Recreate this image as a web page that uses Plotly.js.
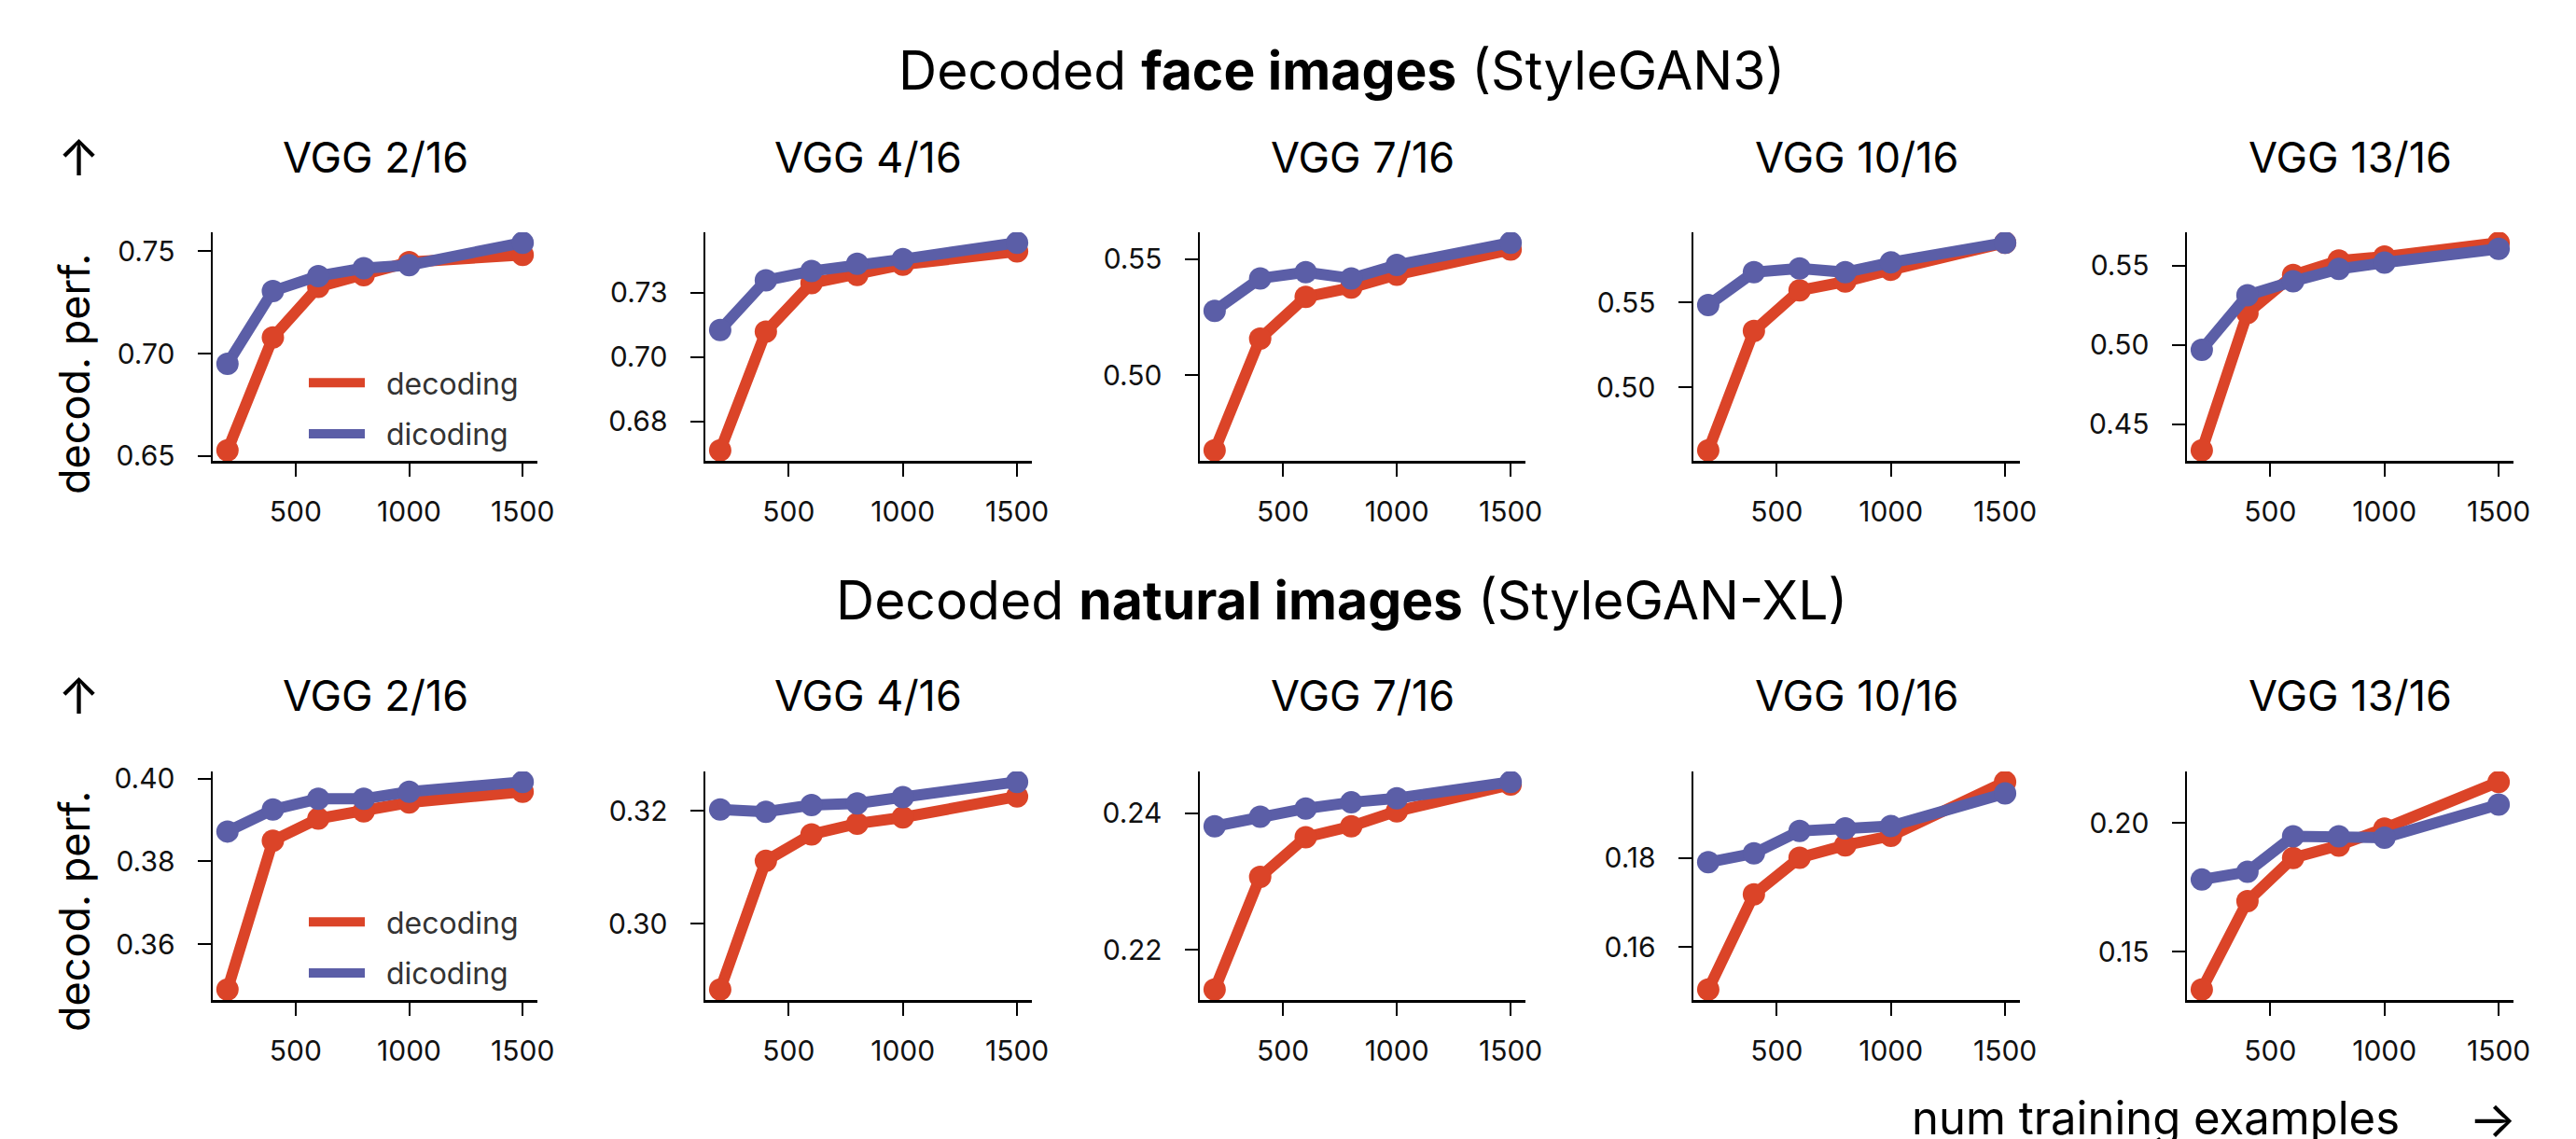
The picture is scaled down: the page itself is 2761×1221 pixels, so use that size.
<!DOCTYPE html>
<html><head><meta charset="utf-8">
<script src="https://cdn.plot.ly/plotly-3.0.1.min.js"></script>
<style>html,body{margin:0;padding:0;background:#fff;} #chart{width:2761px;height:1221px;}</style>
</head><body><div id="chart"></div>
<script>
// ---------------- DATA ----------------
const trainingSizes = [200, 400, 600, 800, 1000, 1500];
const xTickVals = [500, 1000, 1500];
const layerTitles = ['VGG 2/16', 'VGG 4/16', 'VGG 7/16', 'VGG 10/16', 'VGG 13/16'];
const rowTitles = ['Decoded <b>face images</b> (StyleGAN3)', 'Decoded <b>natural images</b> (StyleGAN-XL)'];
const seriesNames = ['decoding', 'dicoding'];
const yLabel = 'decod. perf.';
const xLabel = 'num training examples';

const faceDecoding = [
  [0.6527, 0.7079, 0.7326, 0.7383, 0.7447, 0.7482],
  [0.6638, 0.7098, 0.7286, 0.7318, 0.7358, 0.7409],
  [0.4675, 0.5157, 0.5337, 0.5377, 0.5433, 0.5541],
  [0.4630, 0.5333, 0.5571, 0.5623, 0.5692, 0.5852],
  [0.4336, 0.5202, 0.5442, 0.5533, 0.5558, 0.5646]
];
const faceDicoding = [
  [0.6950, 0.7306, 0.7379, 0.7417, 0.7432, 0.7542],
  [0.7105, 0.7297, 0.7333, 0.7361, 0.7379, 0.7443],
  [0.5277, 0.5417, 0.5444, 0.5417, 0.5475, 0.5571],
  [0.5485, 0.5678, 0.5700, 0.5678, 0.5736, 0.5852],
  [0.4971, 0.5315, 0.5403, 0.5480, 0.5520, 0.5607]
];
const naturalDecoding = [
  [0.3490, 0.3850, 0.3903, 0.3921, 0.3942, 0.3968],
  [0.2883, 0.3111, 0.3158, 0.3177, 0.3188, 0.3225],
  [0.2142, 0.2307, 0.2365, 0.2381, 0.2403, 0.2442],
  [0.1505, 0.1718, 0.1800, 0.1828, 0.1849, 0.1970],
  [0.1353, 0.1696, 0.1864, 0.1912, 0.1978, 0.2159]
];
const naturalDicoding = [
  [0.3872, 0.3925, 0.3951, 0.3951, 0.3968, 0.3992],
  [0.3202, 0.3198, 0.3210, 0.3213, 0.3224, 0.3251],
  [0.2381, 0.2395, 0.2407, 0.2416, 0.2422, 0.2446],
  [0.1790, 0.1810, 0.1860, 0.1866, 0.1871, 0.1944],
  [0.1780, 0.1810, 0.1948, 0.1948, 0.1942, 0.2071]
];

const faceTickVals = [[0.65, 0.70, 0.75], [0.675, 0.70, 0.725], [0.50, 0.55], [0.50, 0.55], [0.45, 0.50, 0.55]];
const faceTickText = [['0.65', '0.70', '0.75'], ['0.68', '0.70', '0.73'], ['0.50', '0.55'], ['0.50', '0.55'], ['0.45', '0.50', '0.55']];
const naturalTickVals = [[0.36, 0.38, 0.40], [0.30, 0.32], [0.22, 0.24], [0.16, 0.18], [0.15, 0.20]];
const naturalTickText = [['0.36', '0.38', '0.40'], ['0.30', '0.32'], ['0.22', '0.24'], ['0.16', '0.18'], ['0.15', '0.20']];

// ---------------- STYLE / LAYOUT ----------------
const W = 2761, H = 1221;
const FONT = 'Inter, "Open Sans", "DejaVu Sans", sans-serif';
const RED = '#DB4428', BLUE = '#5B5EA7';
const colPx = [[228, 576], [756, 1106], [1286, 1635], [1815, 2165], [2344, 2694]];
const rowPx = [[249, 494], [827, 1072]];
const rowTitleY = [75, 643];
const panelTitleY = [168, 745];
const yLabelY = [401, 977];
const legendTopY = [383, 961];
const px = v => v / W;
const py = v => 1 - v / H;

const rows = [
  {dec: faceDecoding, dic: faceDicoding, tv: faceTickVals, tt: faceTickText},
  {dec: naturalDecoding, dic: naturalDicoding, tv: naturalTickVals, tt: naturalTickText}
];

function padRange(arr) {
  const mn = Math.min(...arr), mx = Math.max(...arr);
  const p = (mx - mn) * 0.05;
  return [mn - p, mx + p];
}

const traces = [];
const layout = {
  width: W, height: H,
  margin: {l: 0, r: 0, t: 0, b: 0},
  paper_bgcolor: '#fff', plot_bgcolor: 'rgba(0,0,0,0)',
  font: {family: FONT, color: '#000'},
  showlegend: true,
  annotations: []
};

const xRange = padRange(trainingSizes);

rows.forEach((row, r) => {
  for (let c = 0; c < 5; c++) {
    const k = r * 5 + c + 1;
    const xa = k === 1 ? 'x' : 'x' + k;
    const ya = k === 1 ? 'y' : 'y' + k;
    const series = [row.dec[c], row.dic[c]];
    series.forEach((vals, s) => {
      traces.push({
        x: trainingSizes, y: vals, xaxis: xa, yaxis: ya,
        type: 'scatter', mode: 'lines+markers',
        line: {color: s === 0 ? RED : BLUE, width: 12},
        marker: {color: s === 0 ? RED : BLUE, size: 24},
        name: seriesNames[s], showlegend: false, hoverinfo: 'skip'
      });
    });
    const axCommon = {
      showline: true, linecolor: '#000', linewidth: 2.5,
      ticks: 'outside', ticklen: 14, tickwidth: 2, tickcolor: '#000',
      showgrid: false, zeroline: false, fixedrange: true,
      tickfont: {size: 30, family: FONT, color: '#111'}
    };
    layout['xaxis' + (k === 1 ? '' : k)] = Object.assign({}, axCommon, {
      domain: [px(colPx[c][0]), px(colPx[c][1])],
      anchor: ya, range: xRange,
      tickmode: 'array', tickvals: xTickVals, ticktext: xTickVals.map(String),
      ticklabelstandoff: 12
    });
    layout['yaxis' + (k === 1 ? '' : k)] = Object.assign({}, axCommon, {
      domain: [py(rowPx[r][1]), py(rowPx[r][0])],
      anchor: xa, range: padRange(series[0].concat(series[1])),
      tickmode: 'array', tickvals: row.tv[c], ticktext: row.tt[c],
      ticklabelstandoff: 18
    });
    layout.annotations.push({
      text: layerTitles[c], xref: xa + ' domain', x: 0.5, xanchor: 'center',
      yref: 'paper', y: py(panelTitleY[r]), yanchor: 'middle',
      showarrow: false, font: {size: 45, family: FONT, color: '#000'}
    });
  }
  // row title
  layout.annotations.push({
    text: rowTitles[r], xref: 'paper', x: px(1438), xanchor: 'center',
    yref: 'paper', y: py(rowTitleY[r]), yanchor: 'middle',
    showarrow: false, font: {size: 57, family: FONT, color: '#000'}
  });
  // up arrow
  layout.annotations.push({
    text: '↑', xref: 'paper', x: px(84), xanchor: 'center',
    yref: 'paper', y: py(panelTitleY[r]), yanchor: 'middle',
    showarrow: false, font: {size: 54, family: FONT, color: '#000'}
  });
  // y label
  layout.annotations.push({
    text: yLabel, textangle: -90, xref: 'paper', x: px(79), xanchor: 'center',
    yref: 'paper', y: py(yLabelY[r]), yanchor: 'middle',
    showarrow: false, font: {size: 45, family: FONT, color: '#000'}
  });
  // legend entries (legend-only traces, no data)
  const lg = r === 0 ? 'legend' : 'legend2';
  [RED, BLUE].forEach((col, s) => {
    traces.push({
      x: [null], y: [null], xaxis: r === 0 ? 'x' : 'x6', yaxis: r === 0 ? 'y' : 'y6',
      type: 'scatter', mode: 'lines', line: {color: col, width: 14},
      name: '\u00a0\u00a0' + seriesNames[s], legend: lg, legendgroup: lg + s,
      showlegend: true, hoverinfo: 'skip'
    });
  });
  layout[lg] = {
    x: px(326), xanchor: 'left', y: py(legendTopY[r]), yanchor: 'top',
    bgcolor: 'rgba(0,0,0,0)', borderwidth: 0,
    font: {size: 32, family: FONT, color: '#333'},
    itemwidth: 60, tracegroupgap: 10, traceorder: 'grouped'
  };
});

// x label
layout.annotations.push({
  text: xLabel, xref: 'paper', x: px(2310), xanchor: 'center',
  yref: 'paper', y: py(1198), yanchor: 'middle',
  showarrow: false, font: {size: 49, family: FONT, color: '#000'}
});
layout.annotations.push({
  text: '→', xref: 'paper', x: px(2672), xanchor: 'center',
  yref: 'paper', y: py(1199), yanchor: 'middle',
  showarrow: false, font: {size: 54, family: FONT, color: '#000'}
});

Plotly.newPlot('chart', traces, layout, {displayModeBar: false, staticPlot: true});
</script>
</body></html>
